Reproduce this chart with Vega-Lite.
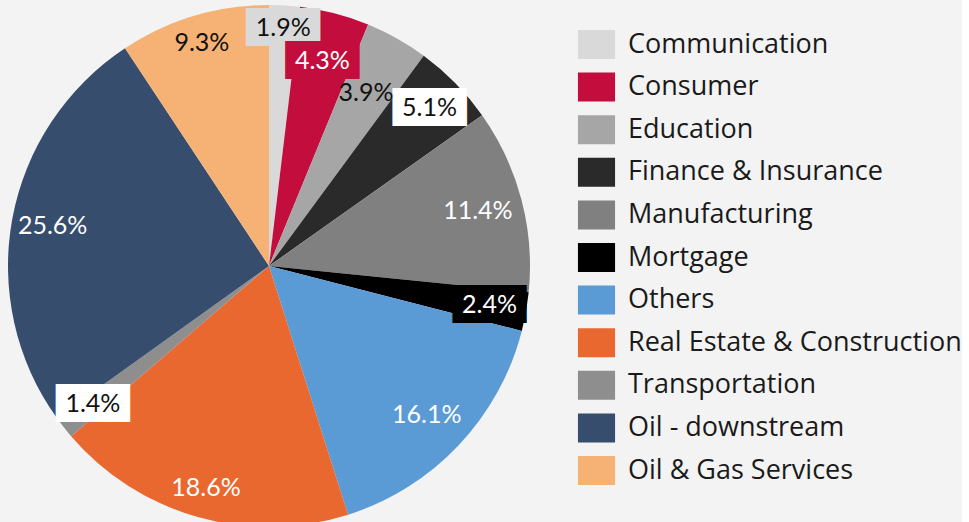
{
  "$schema": "https://vega.github.io/schema/vega-lite/v6.json",
  "width": 538,
  "height": 532,
  "padding": 0,
  "background": "#f3f3f3",
  "view": {"stroke": null},
  "data": {
    "values": [
      {"idx": 1, "sector": "Communication", "value": 0.019},
      {"idx": 2, "sector": "Consumer", "value": 0.043},
      {"idx": 3, "sector": "Education", "value": 0.039},
      {"idx": 4, "sector": "Finance & Insurance", "value": 0.051},
      {"idx": 5, "sector": "Manufacturing", "value": 0.114},
      {"idx": 6, "sector": "Mortgage", "value": 0.024},
      {"idx": 7, "sector": "Others", "value": 0.161},
      {"idx": 8, "sector": "Real Estate & Construction", "value": 0.186},
      {"idx": 9, "sector": "Transportation", "value": 0.014},
      {"idx": 10, "sector": "Oil - downstream", "value": 0.256},
      {"idx": 11, "sector": "Oil & Gas Services", "value": 0.093}
    ]
  },
  "encoding": {
    "theta": {"field": "value", "type": "quantitative", "stack": true},
    "order": {"field": "idx", "type": "quantitative"}
  },
  "layer": [
    {
      "mark": {"type": "arc", "outerRadius": 261, "strokeWidth": 0},
      "encoding": {
        "color": {
          "field": "sector",
          "type": "nominal",
          "scale": {
            "domain": ["Communication", "Consumer", "Education", "Finance & Insurance", "Manufacturing", "Mortgage", "Others", "Real Estate & Construction", "Transportation", "Oil - downstream", "Oil & Gas Services"],
            "range": ["#d9d9d9", "#c30d3c", "#a6a6a6", "#2a2a2a", "#808080", "#000000", "#5b9bd5", "#e86830", "#8e8e8e", "#364d6e", "#f5b274"]
          },
          "legend": {
            "orient": "none",
            "legendX": 582,
            "legendY": 30,
            "title": null,
            "padding": 0,
            "labelFont": "Open Sans",
            "labelFontSize": 27,
            "labelColor": "#1a1a1a",
            "labelOffset": 17,
            "labelLimit": 500,
            "symbolType": "M-1.28,-1H1.28V1H-1.28Z",
            "symbolSize": 841,
            "symbolStrokeWidth": 0,
            "symbolOpacity": 1,
            "rowPadding": 13.6
          }
        }
      }
    },
    {
      "mark": {
        "type": "text",
        "radius": {"expr": "datum.sector === 'Communication' ? 238 : datum.sector === 'Consumer' ? 212 : datum.sector === 'Finance & Insurance' ? 225 : datum.sector === 'Mortgage' ? 224 : 224"},
        "font": "DejaVu Sans",
        "fontSize": 32,
        "baseline": "middle",
        "align": "center"
      },
      "encoding": {
        "text": {
          "condition": {"test": "indexof(['Communication','Consumer','Finance & Insurance','Mortgage','Transportation'], datum.sector) >= 0", "value": "███"},
          "value": ""
        },
        "color": {
          "condition": {"test": "indexof(['Finance & Insurance','Transportation'], datum.sector) >= 0", "value": "#ffffff"},
          "field": "sector",
          "type": "nominal",
          "legend": null
        }
      }
    },
    {
      "mark": {
        "type": "text",
        "radius": {"expr": "datum.sector === 'Communication' ? 238 : datum.sector === 'Consumer' ? 212 : datum.sector === 'Education' ? 198 : datum.sector === 'Finance & Insurance' ? 225 : datum.sector === 'Manufacturing' ? 216 : datum.sector === 'Mortgage' ? 224 : datum.sector === 'Others' ? 217 : datum.sector === 'Real Estate & Construction' ? 231 : datum.sector === 'Transportation' ? 224 : datum.sector === 'Oil - downstream' ? 220 : 233"},
        "font": "Lato",
        "fontSize": 25,
        "baseline": "middle",
        "align": "center"
      },
      "encoding": {
        "text": {"field": "value", "type": "quantitative", "format": ".1%"},
        "color": {
          "condition": {"test": "indexof(['Communication','Education','Finance & Insurance','Transportation','Oil & Gas Services'], datum.sector) >= 0", "value": "#111111"},
          "value": "#ffffff"
        }
      }
    }
  ]
}
